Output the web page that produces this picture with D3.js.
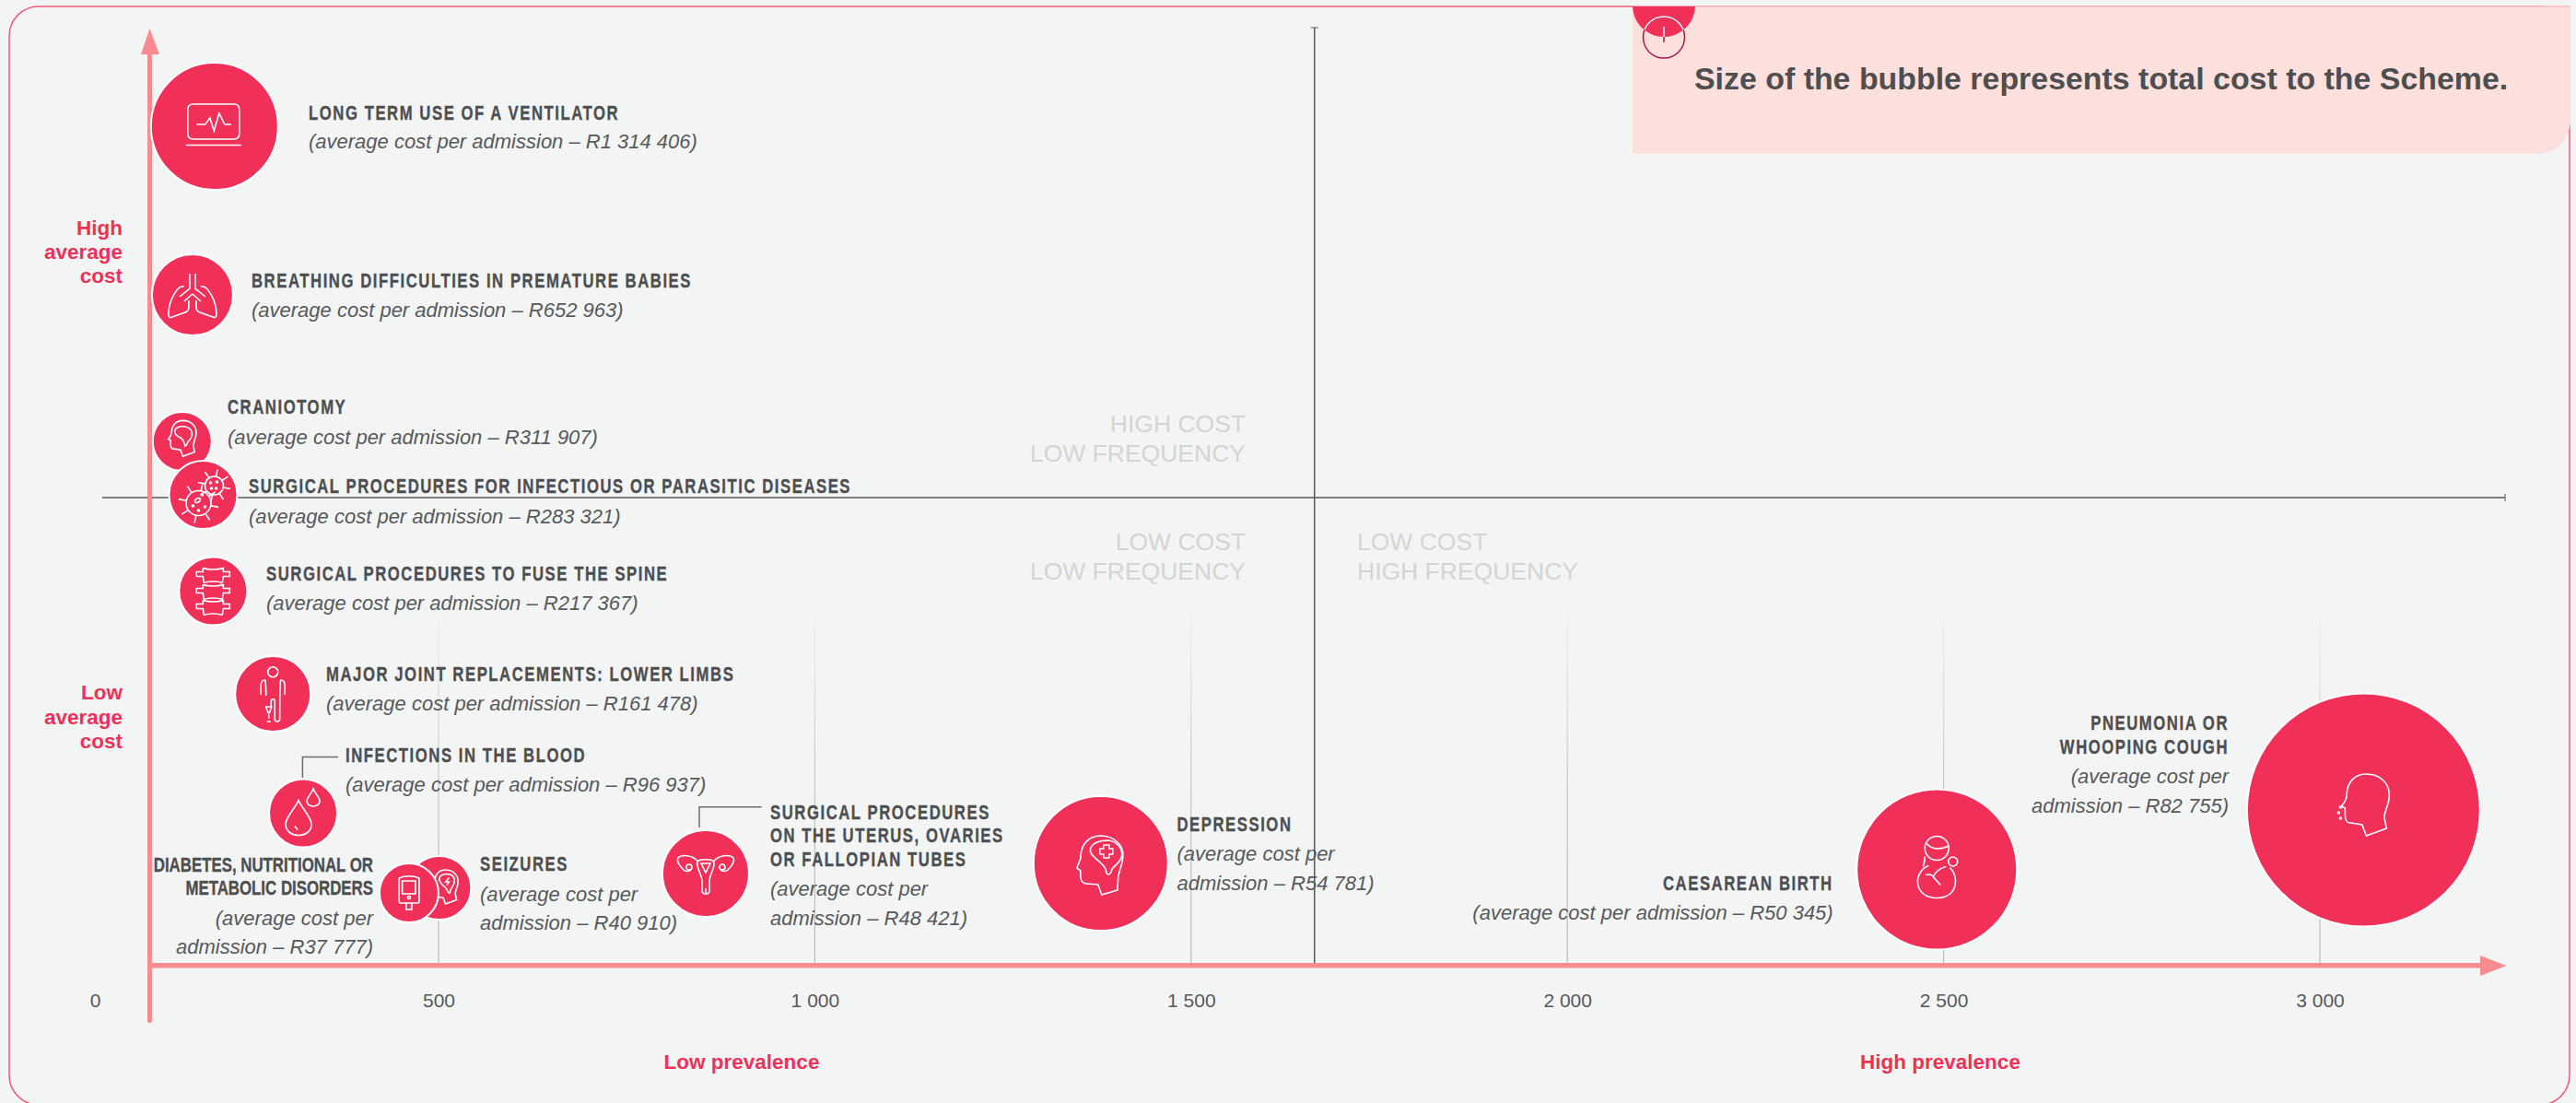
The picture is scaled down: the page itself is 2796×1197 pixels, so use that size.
<!DOCTYPE html>
<html>
<head>
<meta charset="utf-8">
<script src="https://cdn.jsdelivr.net/npm/d3@7"></script>
<style>
	html, body { margin: 0; padding: 0; background: #f3f5f4; overflow: hidden; }
	svg { display: block; }
	text { font-family: "Liberation Sans", Arial, sans-serif; }
	.head { font-weight: 700; font-size: 22px; letter-spacing: 2.04px; fill: #4d4e50; stroke: #4d4e50; stroke-width: 0.35px; }
	.cost { font-style: italic; font-size: 22px; fill: #58595b; }
	.pink { font-weight: 700; font-size: 22.5px; fill: #ef3159; }
	.quad { font-size: 26.5px; fill: #d3d5d5; }
	.tick text { font-size: 21px; fill: #58595b; }
</style>
</head>
<body>
<script>
var width = 2796,
	height = 1197;

// values
var conditions = [
	["LONG TERM USE OF A VENTILATOR"],
	["BREATHING DIFFICULTIES IN PREMATURE BABIES"],
	["CRANIOTOMY"],
	["SURGICAL PROCEDURES FOR INFECTIOUS OR PARASITIC DISEASES"],
	["SURGICAL PROCEDURES TO FUSE THE SPINE"],
	["MAJOR JOINT REPLACEMENTS: LOWER LIMBS"],
	["INFECTIONS IN THE BLOOD"],
	["SEIZURES"],
	["DIABETES, NUTRITIONAL OR", "METABOLIC DISORDERS"],
	["SURGICAL PROCEDURES", "ON THE UTERUS, OVARIES", "OR FALLOPIAN TUBES"],
	["DEPRESSION"],
	["CAESAREAN BIRTH"],
	["PNEUMONIA OR", "WHOOPING COUGH"]
];
var avgCost = [1314406, 652963, 311907, 283321, 217367, 161478, 96937, 40910, 37777, 48421, 54781, 50345, 82755];
var prevalence = [174, 142, 127, 157.5, 172, 259, 303, 501, 457, 855, 1380, 2491, 3058];
// the y axis has no numbers, so this is height on the axis, 0 to 100
var costPosition = [91.1, 72.8, 56.9, 51.1, 40.65, 29.5, 16.55, 8.45, 7.9, 10, 11.1, 10.45, 16.9];
// bubble area relative to the largest bubble
var totalCostSize = [29.75, 12.1, 6.4, 8.55, 8.55, 10.5, 8.55, 7.44, 6.4, 13.8, 33.3, 47.3, 100];

var xTicks = [0, 500, 1000, 1500, 2000, 2500, 3000];
var prevalenceSplit = 1664;
var costSplit = 50.8;

// the 0 tick sits closer to 500 than the other ticks sit to each other
var x = d3.scaleLinear().domain([0, 500, 3000]).range([103, 476, 2518]);
var y = d3.scaleLinear().domain([0, 100]).range([1048, 48]);
var r = d3.scaleSqrt().domain([0, 100]).range([0, 126.5]);

var locale = d3.formatLocale({decimal: ".", thousands: " ", grouping: [3], currency: ["R", ""]});
var fmt = locale.format(",");

// label placement: x, anchor, baseline of each line, wrapped cost text
var labelLayout = [
	{x: 335, anchor: "start", head: [129.5], cost: [161]},
	{x: 273, anchor: "start", head: [311.5], cost: [343.5]},
	{x: 247, anchor: "start", head: [449], cost: [482]},
	{x: 270, anchor: "start", head: [535], cost: [568]},
	{x: 289, anchor: "start", head: [630], cost: [662]},
	{x: 354, anchor: "start", head: [739], cost: [771]},
	{x: 375, anchor: "start", head: [827], cost: [859]},
	{x: 521, anchor: "start", head: [945], cost: [978, 1009]},
	{x: 405, anchor: "end", head: [946, 971], cost: [1004, 1035], tight: true},
	{x: 836, anchor: "start", head: [889, 914, 940], cost: [972, 1004]},
	{x: 1277.5, anchor: "start", head: [902], cost: [934, 966]},
	{x: 1989.7, anchor: "end", head: [966], cost: [998]},
	{x: 2419, anchor: "end", head: [792, 818], cost: [850, 882]}
];

function dot(cx, cy, rad) {
	return "M" + (cx - rad) + "," + cy + "a" + rad + "," + rad + " 0 1,0 " + (2 * rad) + ",0a" + rad + "," + rad + " 0 1,0 " + (-2 * rad) + ",0";
}

function virus(cx, cy, rad, len) {
	var s = dot(cx, cy, rad);
	d3.range(8).forEach(function(k) {
		var a = k * Math.PI / 4 + 0.2;
		s += "M" + (cx + rad * Math.cos(a)) + "," + (cy + rad * Math.sin(a)) + "L" + (cx + len * Math.cos(a)) + "," + (cy + len * Math.sin(a));
	});
	return s;
}

function spine() {
	var s = "";
	[-17, 1, 18].forEach(function(o) {
		s += "M-11," + (o - 8) + "C-5," + (o - 6) + " 5," + (o - 6) + " 11," + (o - 8) + "V" + (o - 4) + "H18V" + (o + 1) + "H11L10," + (o + 8) +
			"M-11," + (o - 8) + "V" + (o - 4) + "H-18V" + (o + 1) + "H-11L-10," + (o + 8) +
			"M-10," + (o + 8) + "C-5," + (o + 6) + " 5," + (o + 6) + " 10," + (o + 8);
	});
	return s;
}

var headShape = "M3,28L25,20L22.5,8C23,0 28,-6 28,-16C28,-30 17,-39 3,-39C-10,-39 -17,-30 -18,-19C-18,-12 -20,-9 -24,-4L-20,-2V5C-20,12 -18,14 -14,14L-1.5,16Z";

// white line icons, drawn around each bubble centre
var icons = [
	[{d: "M-23,-24H21Q27,-24 27,-18V8Q27,14 21,14H-23Q-29,14 -29,8V-18Q-29,-24 -23,-24ZM-31,20.5H29M-19.5,-2H-10L-5,-9L-0.5,5L5,-14L11,-2H18"}],
	[{d: "M-3,-23V-7L-14,2M3,-23V-7L14,2M0,-1L-9,7M0,-1L9,7M-9,-9C-16,-11 -26,6 -26,21C-26,25 -24,25 -22,24L-8,19C-5,18 -4,16 -4,13V6M9,-9C16,-11 26,6 26,21C26,25 24,25 22,24L8,19C5,18 4,16 4,13V6"}],
	[{d: headShape, t: "translate(-1,0) scale(.58)"}, {d: "M-8,-12C-6,-17 4,-18 9,-13C13,-8 9,-2 6,1C5,3 5,5 3,5C2,1 2,-2 -2,-4C-6,-6 -9,-8 -8,-12Z"}],
	[{d: virus(-5, 9, 13.5, 22)}, {d: virus(12, -10, 10, 18)},
		{d: "M-9,7C-9,4 -3,2 -3,5C-3,8 -9,10 -9,7Z" + dot(-5, 17, 1) + dot(2, 13, 1) + dot(-11, 12, 1) + dot(-1, 0, 1) + dot(8, -13, 1) + dot(15, -14, 1) + dot(14, -7, 1) + dot(9, -7, 1)}],
	[{d: spine()}],
	[{d: "M-5.5,-23.7a5.5,5.5 0 1,0 11,0a5.5,5.5 0 1,0 -11,0M-13,1V-9C-13,-13 -11,-15 -8.5,-15C-7.5,-12 -7.5,-6 -7.5,2M13,1V-9C13,-13 11,-15 8.5,-15C7.5,-12 7.5,0 7.5,27C7.5,31 2,31 2,27V8C2,5 -2,5 -2,8V14M-7.5,14H-1.5L-3.5,20H-5.5ZM-4.5,20V27M-6.5,30H-2.5"}],
	[{d: "M-5,-14C-8,-6 -19,4 -19,12C-19,20 -12,24 -5,24C2,24 9,20 9,12C9,4 -2,-6 -5,-14ZM-9,14L-6,18M11,-26.5C9,-21 4,-17 4,-13C4,-10 7,-7.5 11,-7.5C15,-7.5 18,-10 18,-13C18,-17 13,-21 11,-26.5Z"}],
	[{d: headShape, t: "translate(5,2) scale(.55)"}, {d: "M0,-11C2,-15 8,-16 13,-14C18,-11 17,-5 14,-1C12,1 12,5 11,6C9,6 9,2 7,0C4,-3 -1,-6 0,-11ZM10.5,-11L7,-6.5H10.5L8,-3"}],
	[{d: "M-10.7,-16C-5,-19 5,-19 11,-16V9Q11,11 9,11H-9Q-10.7,11 -10.7,9ZM-7.3,-13H7V1H-7.3ZM-3,11V18H3V11" + dot(0, 5, 1.5)}],
	[{d: "M-9,-13C-6,-16 6,-16 9,-13C10,-6 5,0 4,7V20L2,22H-2L-4,20V7C-5,0 -10,-6 -9,-13ZM-5,-11H5L0,-1ZM-9,-14C-15,-20 -26,-21 -30,-17C-32,-13 -28,-8 -24,-4C-22,-2 -18,-2 -16,-4M9,-14C15,-20 26,-21 30,-17C32,-13 28,-8 24,-4C22,-2 18,-2 16,-4M0,16V22" + dot(-18, -7, 3) + dot(18, -7, 3)}],
	[{d: "M18,29L1,34L-3,23L-15,22C-20,22 -22,18 -22,13V8L-26,5L-22,-5C-22,-20 -14,-30 0,-30C14,-30 25,-20 24,-8C24,0 20,8 19,14Z"},
		{d: "M-11,-17C-8,-23 0,-25 8,-25C17,-24 23,-17 23,-10C23,-3 17,1 13,5C11,7 12,12 8,12C5,12 7,8 4,4C0,-3 -14,-8 -11,-17ZM3,-20H9V-16H13V-10H9V-6H3V-10H-1V-16H3Z"}],
	[{d: dot(0, -23, 13) + dot(17.5, -8.5, 5) + "M-13,-14C-13,-8 -14,-6 -15,-3M-11,-28C-6,-22 2,-21 12,-25M-9,-4C-26,2 -26,31 0,31C24,31 24,6 14,-2M-12,6C-8,5 -5,6 -4,8L4,17M-4,8C-2,3 4,-2 10,-3"}],
	[{d: headShape}, {d: dot(-27, 3, 1) + dot(-25, -3, 1) + dot(-25, 9, 1)}]
];

var svg = d3.select("body").append("svg")
	.attr("width", width)
	.attr("height", height);

var defs = svg.append("defs");
var gradient = defs.append("linearGradient")
	.attr("id", "gridFade")
	.attr("gradientUnits", "userSpaceOnUse")
	.attr("x1", 0).attr("x2", 0).attr("y1", 650).attr("y2", 1048);
gradient.append("stop").attr("offset", 0).attr("stop-color", "#b9bbbb").attr("stop-opacity", 0);
gradient.append("stop").attr("offset", 0.5).attr("stop-color", "#b9bbbb").attr("stop-opacity", 0.8);
gradient.append("stop").attr("offset", 1).attr("stop-color", "#b9bbbb");

// frame
svg.append("rect")
	.attr("x", 10).attr("y", 7)
	.attr("width", 2779).attr("height", 1192)
	.attr("rx", 32)
	.attr("fill", "#f3f5f4")
	.attr("stroke", "#f3587c")
	.attr("stroke-width", 1.5);

// legend panel
svg.append("path")
	.attr("d", "M1772,7H2790V134Q2784,167 2752,167H1772Z")
	.attr("fill", "#fddfdc");
svg.append("line")
	.attr("x1", 1772).attr("x2", 2790).attr("y1", 7).attr("y2", 7)
	.attr("stroke", "#fbbcc5").attr("stroke-width", 1.5);

defs.append("clipPath").attr("id", "panelClip").append("rect")
	.attr("x", 1700).attr("y", 7).attr("width", 300).attr("height", 100);
defs.append("clipPath").attr("id", "legendClip").append("circle")
	.attr("cx", 1806).attr("cy", 6).attr("r", 34);

svg.append("circle")
	.attr("cx", 1806).attr("cy", 6).attr("r", 34)
	.attr("fill", "#f03059")
	.attr("clip-path", "url(#panelClip)");
["#a8174f", "#fff"].forEach(function(c, i) {
	var g = svg.append("g").attr("fill", "none").attr("stroke", c).attr("stroke-width", 1.5);
	if (i == 1) g.attr("clip-path", "url(#legendClip)");
	g.append("circle").attr("cx", 1806).attr("cy", 40.5).attr("r", 22.5);
	g.append("line").attr("x1", 1806).attr("x2", 1806).attr("y1", 29).attr("y2", 46);
});

svg.append("text")
	.attr("x", 1839).attr("y", 97)
	.attr("font-weight", 700)
	.attr("font-size", 33.9)
	.attr("fill", "#4d4e50")
	.text("Size of the bubble represents total cost to the Scheme.");

// grid lines fading upwards
svg.selectAll(".grid")
	.data(xTicks.slice(1))
	.enter().append("rect")
	.attr("class", "grid")
	.attr("x", function(d) { return x(d) - 0.6; })
	.attr("y", 650)
	.attr("width", 1.2)
	.attr("height", 398)
	.attr("fill", "url(#gridFade)");

// quadrant lines
svg.append("line")
	.attr("x1", 111).attr("x2", 2719)
	.attr("y1", y(costSplit)).attr("y2", y(costSplit))
	.attr("stroke", "#58595b").attr("stroke-width", 1.5);
svg.append("line")
	.attr("x1", 2719).attr("x2", 2719)
	.attr("y1", y(costSplit) - 4).attr("y2", y(costSplit) + 4)
	.attr("stroke", "#58595b").attr("stroke-width", 1);
svg.append("line")
	.attr("x1", x(prevalenceSplit)).attr("x2", x(prevalenceSplit))
	.attr("y1", 30).attr("y2", 1048)
	.attr("stroke", "#58595b").attr("stroke-width", 1.5);
svg.append("line")
	.attr("x1", x(prevalenceSplit) - 4).attr("x2", x(prevalenceSplit) + 4)
	.attr("y1", 30).attr("y2", 30)
	.attr("stroke", "#58595b").attr("stroke-width", 1);

// quadrant captions
var quadCaptions = [
	["HIGH COST", 1352, 469, "end"], ["LOW FREQUENCY", 1352, 500.7, "end"],
	["LOW COST", 1352, 596.7, "end"], ["LOW FREQUENCY", 1352, 628.7, "end"],
	["LOW COST", 1473, 596.7, "start"], ["HIGH FREQUENCY", 1473, 628.7, "start"]
];
svg.selectAll(".quad")
	.data(quadCaptions)
	.enter().append("text")
	.attr("class", "quad")
	.attr("x", function(d) { return d[1]; })
	.attr("y", function(d) { return d[2]; })
	.attr("text-anchor", function(d) { return d[3]; })
	.text(function(d) { return d[0]; });

// axes
var xAxis = d3.axisBottom(x)
	.tickValues(xTicks)
	.tickSize(0)
	.tickPadding(30)
	.tickFormat(fmt);
var axisG = svg.append("g")
	.attr("transform", "translate(0,1048)")
	.call(xAxis);
axisG.select(".domain").remove();

var axisColor = "#f78b90";
svg.append("rect").attr("x", 160).attr("y", 50).attr("width", 5).attr("height", 1060).attr("rx", 2).attr("fill", axisColor);
svg.append("path").attr("d", "M162.5,31L173,59H153Z").attr("fill", axisColor);
svg.append("rect").attr("x", 160).attr("y", 1045).attr("width", 2535).attr("height", 5.5).attr("fill", axisColor);
svg.append("path").attr("d", "M2720.6,1048L2692,1037V1059Z").attr("fill", axisColor);

// axis captions
var pinkCaptions = [
	["High", 133, 255, "end"], ["average", 133, 281, "end"], ["cost", 133, 307, "end"],
	["Low", 133, 759, "end"], ["average", 133, 785.5, "end"], ["cost", 133, 812, "end"],
	["Low prevalence", 805, 1160, "middle"], ["High prevalence", 2106, 1160, "middle"]
];
svg.selectAll(".pink")
	.data(pinkCaptions)
	.enter().append("text")
	.attr("class", "pink")
	.attr("x", function(d) { return d[1]; })
	.attr("y", function(d) { return d[2]; })
	.attr("text-anchor", function(d) { return d[3]; })
	.text(function(d) { return d[0]; });

// bubbles
var bubble = svg.selectAll(".bubble")
	.data(avgCost)
	.enter().append("g")
	.attr("class", "bubble")
	.attr("transform", function(d, i) { return "translate(" + x(prevalence[i]) + "," + y(costPosition[i]) + ")"; });

bubble.append("circle")
	.attr("r", function(d, i) { return r(totalCostSize[i]); })
	.attr("fill", "#f03059")
	.attr("stroke", "#fff")
	.attr("stroke-width", 2);

bubble.each(function(d, i) {
	d3.select(this).selectAll("path")
		.data(icons[i])
		.enter().append("path")
		.attr("d", function(p) { return p.d; })
		.attr("transform", function(p) { return p.t || null; })
		.attr("fill", "none")
		.attr("stroke", "#fff")
		.attr("stroke-width", 1.6)
		.attr("vector-effect", "non-scaling-stroke");
});

// leader lines for the two labels that sit away from their bubble
var leaders = [
	[[328.4, 844], [328.4, 821.6], [367, 821.6]],
	[[759, 898], [759, 875.7], [826.6, 875.7]]
];
svg.selectAll(".leader")
	.data(leaders)
	.enter().append("path")
	.attr("class", "leader")
	.attr("d", d3.line())
	.attr("fill", "none")
	.attr("stroke", "#6d6e70")
	.attr("stroke-width", 1.5);

// labels, the headings are squeezed since no condensed face is installed
conditions.forEach(function(lines, i) {
	var l = labelLayout[i];
	lines.forEach(function(t, j) {
		svg.append("text")
			.attr("class", "head")
			.attr("transform", "translate(" + l.x + "," + l.head[j] + ") scale(" + (l.tight ? 0.766 : 0.76) + ",1)")
			.attr("text-anchor", l.anchor)
			.style("letter-spacing", l.tight ? "0px" : null)
			.text(t);
	});
	var amount = "R" + fmt(avgCost[i]) + ")";
	var costLines = l.cost.length == 2
		? ["(average cost per", "admission – " + amount]
		: ["(average cost per admission – " + amount];
	costLines.forEach(function(t, j) {
		svg.append("text")
			.attr("class", "cost")
			.attr("x", l.x).attr("y", l.cost[j])
			.attr("text-anchor", l.anchor)
			.text(t);
	});
});
</script>
</body>
</html>
